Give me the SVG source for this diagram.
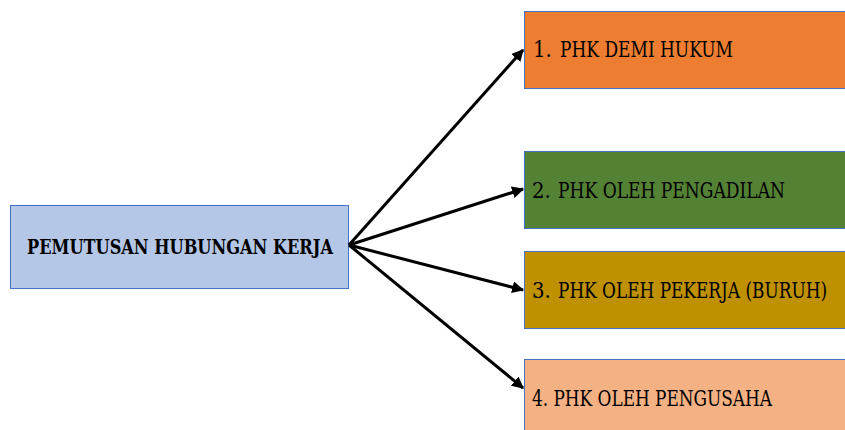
<svg xmlns="http://www.w3.org/2000/svg" width="845" height="430" viewBox="0 0 845 430">
<style>
.box{stroke:#4472C4;stroke-width:1}
.t{font-family:"DejaVu Serif Condensed","DejaVu Serif","Liberation Serif",serif;font-stretch:condensed;fill:#000}
.lbl{font-size:22px}
.main{font-size:20px;font-weight:bold}
.c{stroke:#000;stroke-width:3;fill:none;marker-end:url(#ah)}
</style>
<defs>
<marker id="ah" viewBox="0 0 10 10" refX="9" refY="5" markerWidth="4" markerHeight="4" orient="auto" markerUnits="strokeWidth">
<path d="M0,0 L10,5 L0,10 z" fill="#000"/>
</marker>
</defs>
<rect width="845" height="430" fill="#fff"/>
<g id="n0"><rect class="box" x="10.5" y="205.5" width="338" height="83" fill="#B4C7E7"/>
<text class="t main" x="27" y="254" textLength="306" lengthAdjust="spacingAndGlyphs">PEMUTUSAN HUBUNGAN KERJA</text></g>
<g id="n1"><rect class="box" x="524.5" y="11.5" width="330" height="77" fill="#ED7D31"/>
<text class="t lbl" x="533" y="57">1.</text><text class="t lbl" x="560" y="57" textLength="173" lengthAdjust="spacingAndGlyphs">PHK DEMI HUKUM</text></g>
<g id="n2"><rect class="box" x="524.5" y="151.5" width="330" height="77" fill="#548235"/>
<text class="t lbl" x="532" y="198">2.</text><text class="t lbl" x="558" y="198" textLength="227" lengthAdjust="spacingAndGlyphs">PHK OLEH PENGADILAN</text></g>
<g id="n3"><rect class="box" x="524.5" y="251.5" width="330" height="77" fill="#BF9000"/>
<text class="t lbl" x="532" y="298">3.</text><text class="t lbl" x="558" y="298" textLength="269" lengthAdjust="spacingAndGlyphs">PHK OLEH PEKERJA (BURUH)</text></g>
<g id="n4"><rect class="box" x="524.5" y="359.5" width="330" height="80" fill="#F4B183"/>
<text class="t lbl" x="532" y="406" textLength="240" lengthAdjust="spacingAndGlyphs">4. PHK OLEH PENGUSAHA</text></g>
<g id="connectors">
<line class="c" x1="349" y1="245" x2="523" y2="50"/>
<line class="c" x1="349" y1="245" x2="523" y2="189"/>
<line class="c" x1="349" y1="245" x2="523" y2="290"/>
<line class="c" x1="349" y1="245" x2="523" y2="388"/>
</g>
</svg>
